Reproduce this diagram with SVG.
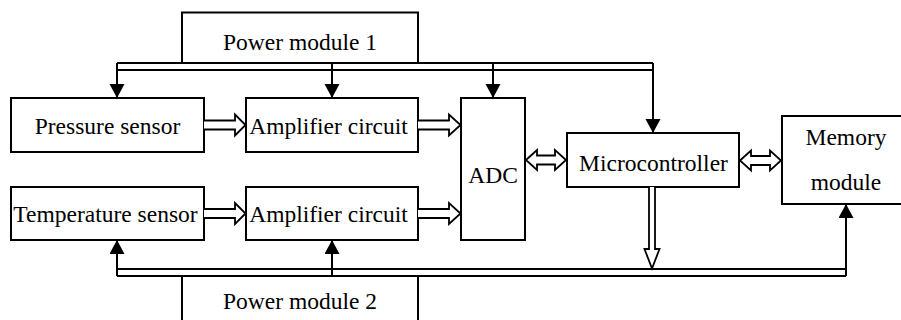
<svg xmlns="http://www.w3.org/2000/svg" width="901" height="320" viewBox="0 0 901 320">
<defs>
<style>
.box{fill:#fff;stroke:#000;stroke-width:2}
.t{font-family:"Liberation Serif","Times New Roman",serif;font-size:23.5px;fill:#000;text-anchor:middle}
.ln{fill:none;stroke:#000;stroke-width:2}
.blk{fill:#fff;stroke:#000;stroke-width:1.8;stroke-linejoin:miter}
</style>
<marker id="ah" markerUnits="userSpaceOnUse" markerWidth="16" markerHeight="16" refX="14" refY="7.5" orient="auto" viewBox="0 0 16 16">
<path d="M0,0 L14,7.5 L0,15 Z" fill="#000"/>
</marker>
</defs>
<rect width="901" height="320" fill="#fff"/>
<g id="power1"><rect class="box" x="182" y="12.5" width="236" height="50.5"/><text class="t" x="300" y="49.5">Power module 1</text></g>
<g id="pressure"><rect class="box" x="11" y="98" width="193" height="54"/><text class="t" x="107.5" y="133.5">Pressure sensor</text></g>
<g id="amp1"><rect class="box" x="246" y="98" width="172" height="54"/><text class="t" x="328.5" y="133.5">Amplifier circuit</text></g>
<g id="temp"><rect class="box" x="11" y="187" width="193" height="53"/><text class="t" x="105.5" y="221.5">Temperature sensor</text></g>
<g id="amp2"><rect class="box" x="246" y="187" width="172" height="53"/><text class="t" x="328.5" y="221.5">Amplifier circuit</text></g>
<g id="adc"><rect class="box" x="461" y="98" width="64" height="142"/><text class="t" x="493" y="183">ADC</text></g>
<g id="micro"><rect class="box" x="567" y="133" width="172" height="54"/><text class="t" x="653.5" y="170.5">Microcontroller</text></g>
<g id="memory"><rect class="box" x="782" y="116" width="130" height="88"/><text class="t" x="846" y="145">Memory</text><text class="t" x="846" y="189.5">module</text></g>
<g id="power2"><rect class="box" x="182" y="276" width="236" height="60"/><text class="t" x="300" y="309">Power module 2</text></g>
<g id="connectors">
<path class="ln" d="M117,63 H653 M117,70 H653"/>
<path class="ln" d="M117,63 V98" marker-end="url(#ah)"/>
<path class="ln" d="M332,63 V98" marker-end="url(#ah)"/>
<path class="ln" d="M493,63 V98" marker-end="url(#ah)"/>
<path class="ln" d="M653,63 V133" marker-end="url(#ah)"/>
<path class="ln" d="M117,269 H846 M117,276 H846"/>
<path class="ln" d="M117,276 V240" marker-end="url(#ah)"/>
<path class="ln" d="M332,276 V240" marker-end="url(#ah)"/>
<path class="ln" d="M846,276 V204" marker-end="url(#ah)"/>
<path class="blk" d="M649,187 V249 H644.5 L652,268.5 L659.5,249 H655 V187"/>
<path class="blk" d="M204,120.5 H235 V114.5 L245.5,125 L235,135.5 V129.5 H204"/>
<path class="blk" d="M418,120.5 H449 V114.5 L460.5,125 L449,135.5 V129.5 H418"/>
<path class="blk" d="M204,209 H235 V203 L245.5,213.5 L235,224 V218 H204"/>
<path class="blk" d="M418,209 H449 V203 L460.5,213.5 L449,224 V218 H418"/>
<path class="blk" d="M526,160 L537,150 V155.5 H555 V150 L566,160 L555,170 V164.5 H537 V170 Z"/>
<path class="blk" d="M740,160.5 L751,150.5 V156 H770 V150.5 L781,160.5 L770,170.5 V165 H751 V170.5 Z"/>
</g>
</svg>
